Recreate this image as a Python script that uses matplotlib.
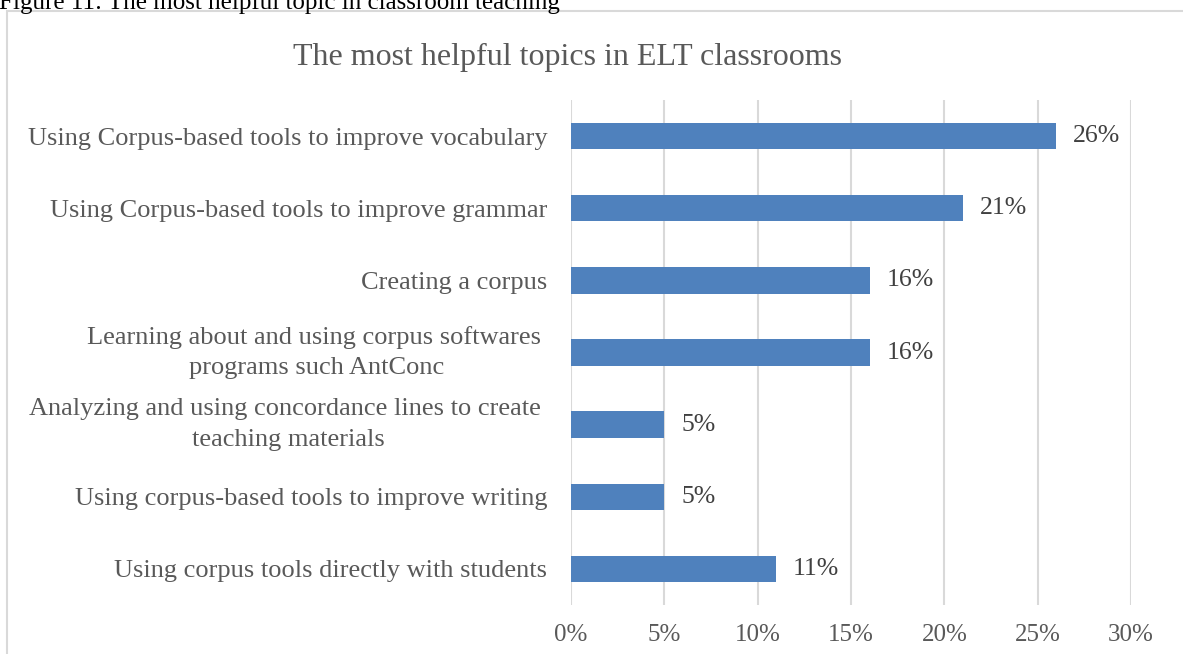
import matplotlib
matplotlib.use("Agg")
import matplotlib.pyplot as plt
from matplotlib.patches import Rectangle

categories = [
    "Using Corpus-based tools to improve vocabulary",
    "Using Corpus-based tools to improve grammar",
    "Creating a corpus",
    "Learning about and using corpus softwares \nprograms such AntConc",
    "Analyzing and using concordance lines to create \nteaching materials",
    "Using corpus-based tools to improve writing",
    "Using corpus tools directly with students",
]
values = [26, 21, 16, 16, 5, 5, 11]
x_ticks = [0, 5, 10, 15, 20, 25, 30]

plt.rcParams["font.family"] = ["Liberation Serif", "DejaVu Serif"]

W, H = 1183, 654
fig = plt.figure(figsize=(W / 100, H / 100), dpi=100)
fig.patch.set_facecolor("white")

# chart frame
fig.patches.append(Rectangle((6.5 / W, -0.05), 1.2, (H - 10.5) / H + 0.05,
                             transform=fig.transFigure, fill=False,
                             edgecolor="#D9D9D9", linewidth=1.5))

# caption above the frame
fig.text(-1 / W, 1 - 9 / H, "Figure 11: The most helpful topic in classroom teaching",
         fontsize=18, color="black", va="baseline", ha="left")

ax = fig.add_axes([571 / W, 1 - 605 / H, (1131 - 571) / W, (605 - 100) / H])

pos = list(range(len(categories)))
ax.barh(pos, values, height=0.365, color="#4F81BD", zorder=3)
ax.set_ylim(len(categories) - 0.5, -0.5)
ax.set_xlim(0, 30)

for p, v in zip(pos, values):
    ax.text(v + 0.9, p, f"{v}%", va="center", ha="left", fontsize=18.5, color="#404040")

ax.set_yticks(pos)
ax.set_yticklabels(categories, fontsize=19, color="#595959", linespacing=1.5,
                   multialignment="center")
# two-line labels are centred as a block on their bar
for lbl in ax.get_yticklabels():
    if "\n" in lbl.get_text():
        lbl.set_verticalalignment("center")
ax.set_xticks(x_ticks)
ax.set_xticklabels([f"{t}%" for t in x_ticks], fontsize=18, color="#595959")
ax.tick_params(axis="both", length=0)
ax.tick_params(axis="y", pad=17)
ax.tick_params(axis="x", pad=14)
ax.grid(axis="x", color="#D9D9D9", linewidth=1.5, zorder=0)
for s in ax.spines.values():
    s.set_visible(False)

fig.text((293 + 842) / 2 / W, 1 - 57 / H, "The most helpful topics in ELT classrooms",
         fontsize=23, color="#595959", ha="center", va="center")

fig.savefig("out.png", dpi=100)
